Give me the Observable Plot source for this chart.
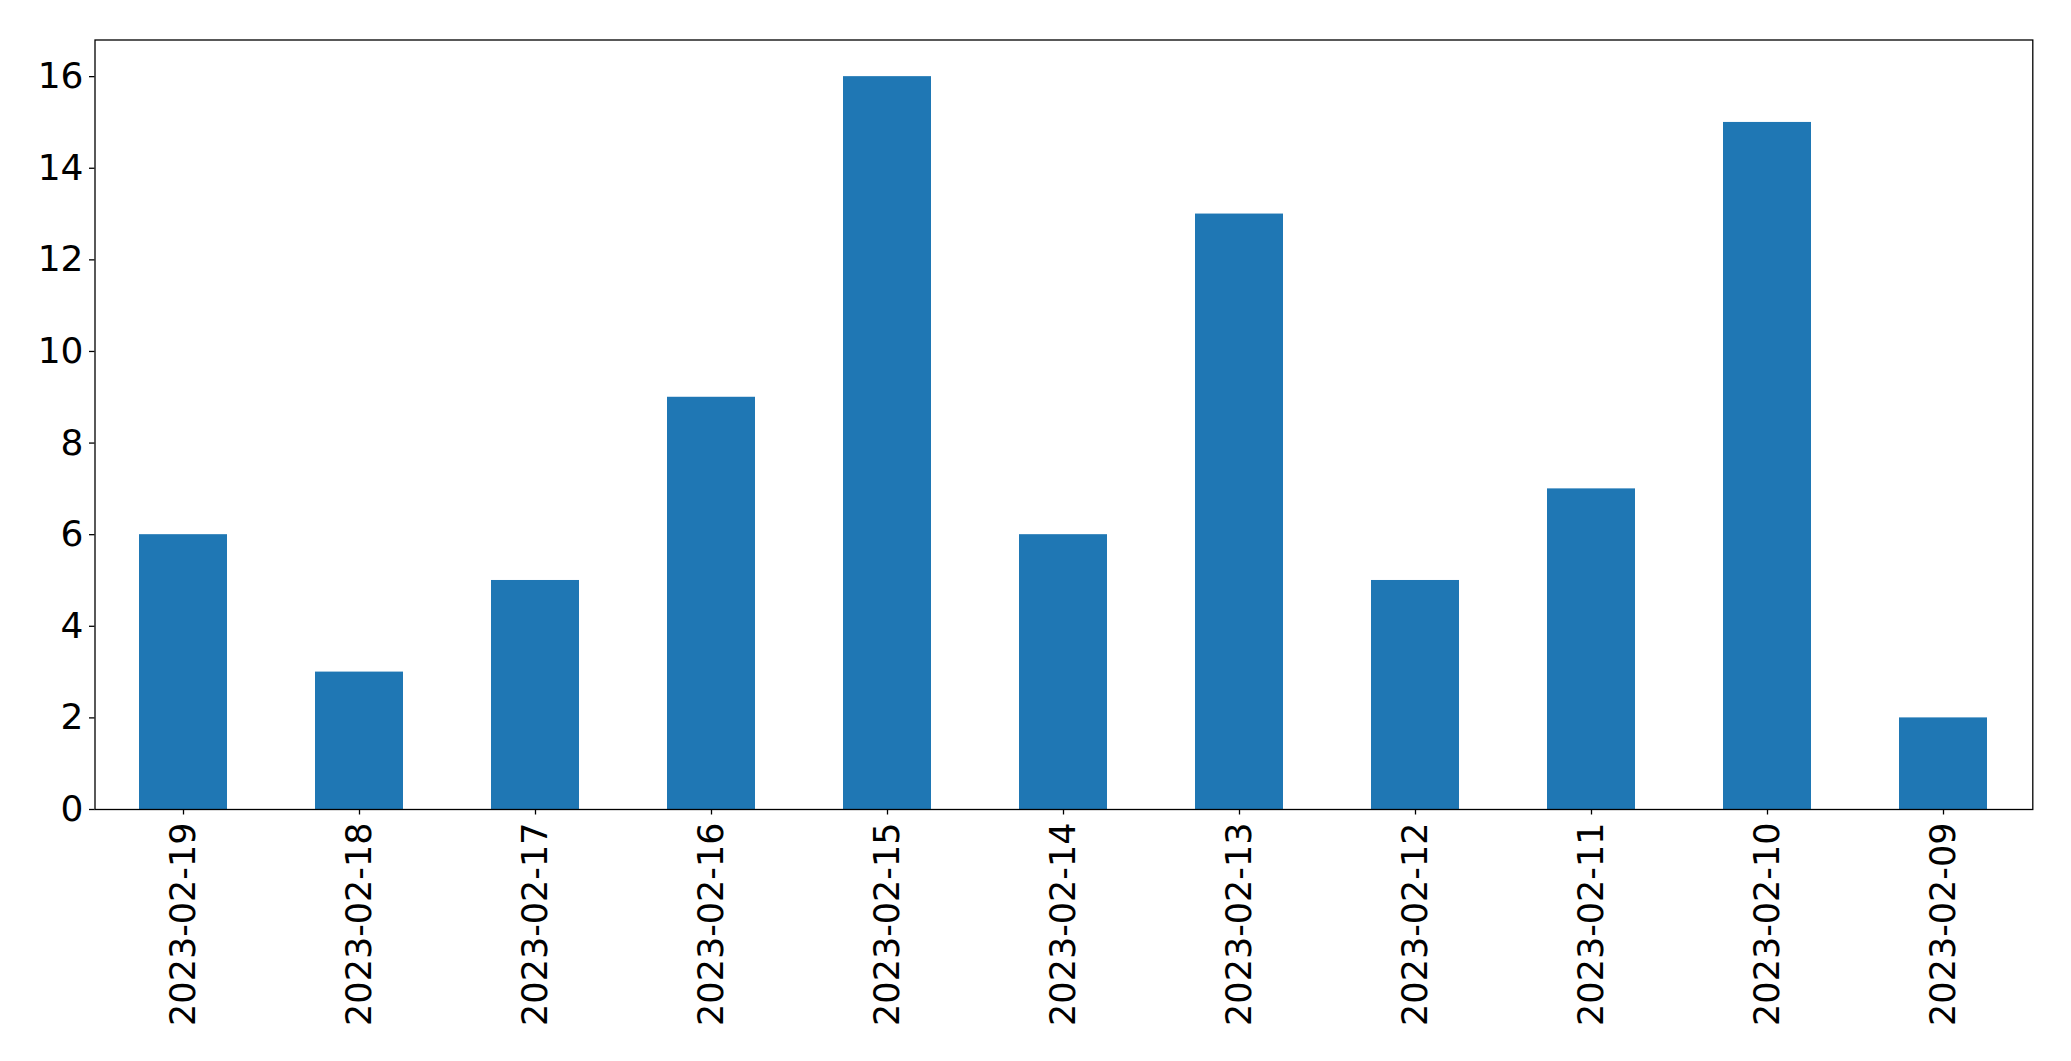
<!DOCTYPE html>
<html>
<head>
<meta charset="utf-8">
<script src="https://cdn.jsdelivr.net/npm/d3@7"></script>
<script src="https://cdn.jsdelivr.net/npm/@observablehq/plot@0.6"></script>
<style>
  html, body { margin: 0; padding: 0; background: #fff; }
</style>
</head>
<body>
<div id="chart"></div>
<script>
const dates = ["2023-02-19","2023-02-18","2023-02-17","2023-02-16","2023-02-15","2023-02-14","2023-02-13","2023-02-12","2023-02-11","2023-02-10","2023-02-09"];
const counts = [6, 3, 5, 9, 16, 6, 13, 5, 7, 15, 2];
const yTicks = [0, 2, 4, 6, 8, 10, 12, 14, 16];

const data = dates.map((d, i) => ({date: d, count: counts[i]}));

const chart = Plot.plot({
  width: 2071,
  height: 1061,
  marginLeft: 94.5,
  marginRight: 38.7,
  marginTop: 39.5,
  marginBottom: 252,
  style: {fontFamily: "DejaVu Sans", background: "#fff", color: "#000"},
  x: {type: "band", domain: dates, paddingInner: 0.5, paddingOuter: 0.25},
  y: {domain: [0, 16.8]},
  marks: [
    Plot.barY(data, {x: "date", y: "count", fill: "#1f77b4"}),
    Plot.axisY({ticks: yTicks, tickSize: 5.5, tickPadding: 6, fontSize: 36, label: null, stroke: "#000", strokeWidth: 1.3}),
    Plot.axisX({tickSize: 5.5, tickPadding: 7.5, tickRotate: -90, fontSize: 35, label: null, stroke: "#000", strokeWidth: 1.3}),
    Plot.frame({stroke: "#000", strokeWidth: 1.3})
  ]
});
document.getElementById("chart").appendChild(chart);
</script>
</body>
</html>
